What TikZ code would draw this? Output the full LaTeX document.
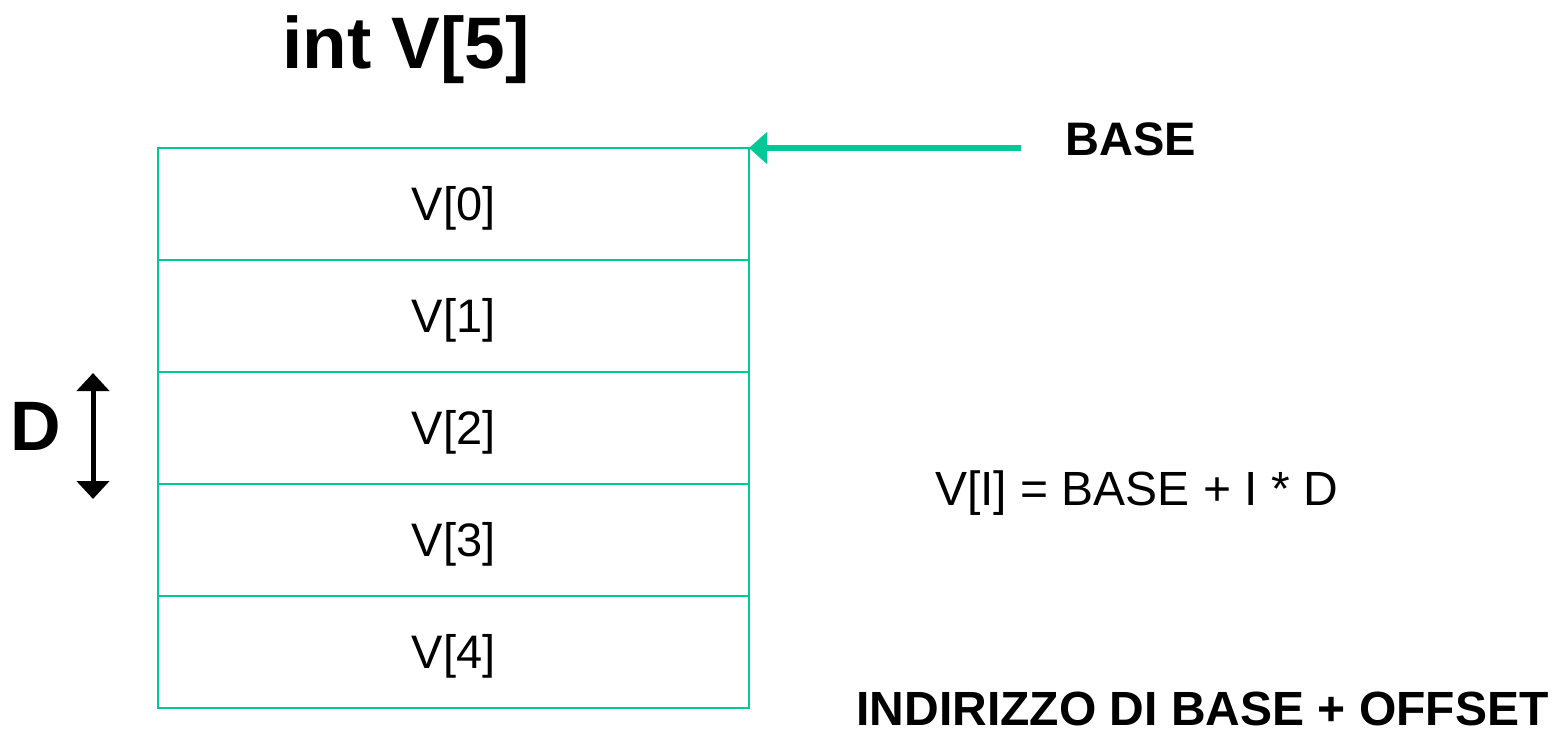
\documentclass[tikz,border=0pt]{standalone}
\usepackage{fontspec}
\setmainfont{Liberation Sans}
\usetikzlibrary{arrows.meta}
\definecolor{teal1}{HTML}{00C896}
\begin{document}
\begin{tikzpicture}[x=1pt,y=-1pt,
  cellbox/.style={draw=teal1,line width=2pt,minimum width=591pt,minimum height=112pt,inner sep=0pt,outer sep=0pt},
  celltext/.style={font=\fontsize{47}{50}\selectfont,anchor=base,inner sep=0pt},
  boldtext/.style={font=\fontsize{47}{50}\selectfont\bfseries,anchor=base,inner sep=0pt}]
\useasboundingbox (0,0) rectangle (1554,732);
\foreach \i in {0,...,4}{
  \node[cellbox] (c\i) at (453.5,{204+112*\i}) {};
  \node[celltext] (t\i) at (453.5,{204+112*\i+16}) {V[\i]};
}
\node[font=\fontsize{73}{76}\selectfont\bfseries,anchor=base,inner sep=0pt] (title) at (406,68) {int V[5]};
\node[boldtext] (base) at (1131,155) {BASE};
\coordinate (bstart) at (1021,148);
\draw[teal1,line width=5.5pt,-{Triangle[width=31pt,length=18pt]}] (bstart) -- (c0.north east);
\node[font=\fontsize{70}{72}\selectfont\bfseries,anchor=base,inner sep=0pt] (D) at (36,450) {D};
\coordinate (dtop) at (93,373);
\coordinate (dbot) at (93,499);
\draw[black,line width=5pt,{Triangle[width=32pt,length=18pt]}-{Triangle[width=32pt,length=18pt]}] (dtop) -- (dbot);
\node[font=\fontsize{48}{50}\selectfont,anchor=base,inner sep=0pt] (formula) at (1136.5,505) {V[I] = BASE + I * D};
\node[font=\fontsize{48}{50}\selectfont\bfseries,anchor=base,inner sep=0pt] (ind) at (1202.5,725) {INDIRIZZO DI BASE + OFFSET};
\end{tikzpicture}
\end{document}
